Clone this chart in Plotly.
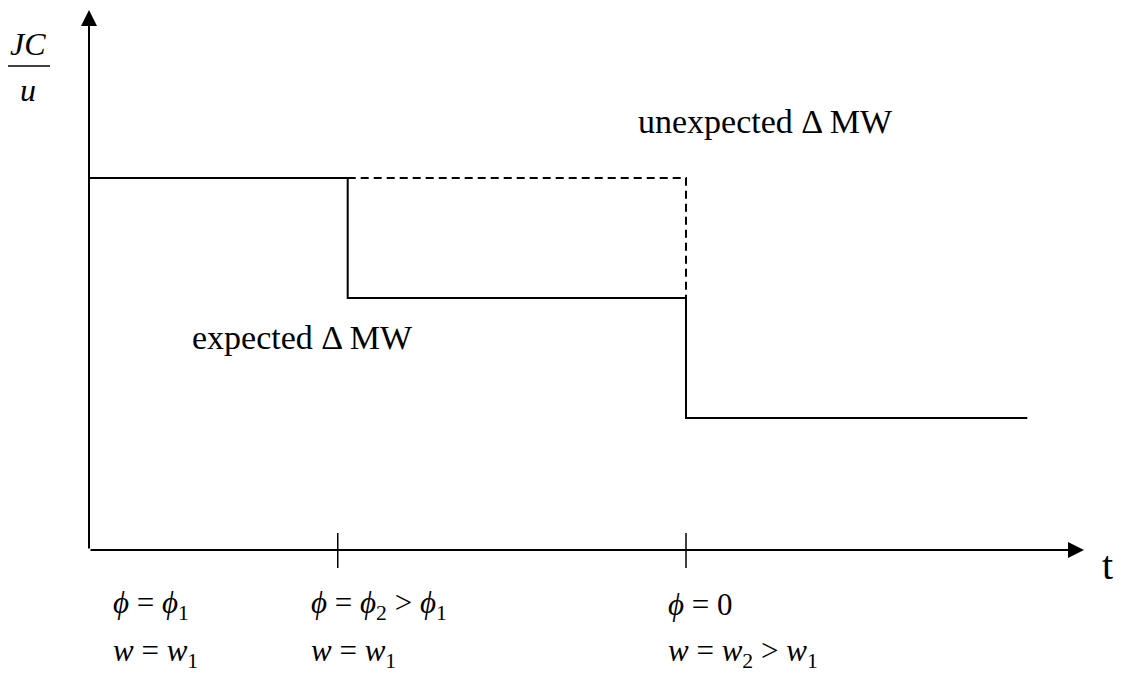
import plotly.graph_objects as go

# ---- data (abstract units) ----
switch_times = [0.0, 2.6, 6.0, 9.43]      # start, first drop, second drop, end
jc_levels = [3.1, 2.1, 1.1]               # JC/u level in each regime
unexpected_level = [3.1, 3.1, 2.1]        # dashed path (no anticipated drop)
tick_positions = [2.5, 6.0]
axis_x_end = 10.0
axis_y_end = 4.5

row1_labels = ["<i>ϕ</i> = <i>ϕ</i><sub>1</sub>",
               "<i>ϕ</i> = <i>ϕ</i><sub>2</sub> > <i>ϕ</i><sub>1</sub>",
               "<i>ϕ</i> = 0"]
row2_labels = ["<i>w</i> = <i>w</i><sub>1</sub>",
               "<i>w</i> = <i>w</i><sub>1</sub>",
               "<i>w</i> = <i>w</i><sub>2</sub> > <i>w</i><sub>1</sub>"]
label_x = [0.22, 2.21, 5.80]

FONT = "Liberation Serif, Times New Roman, serif"

# page body has an 8px margin; the figure is sized to fit the window
OFF = 8
W, H = 1121 - OFF, 673 - OFF

# step path built from the data
step_x, step_y = [], []
for i, lvl in enumerate(jc_levels):
    step_x += [switch_times[i], switch_times[i + 1]]
    step_y += [lvl, lvl]

dash_x = [switch_times[1], switch_times[2], switch_times[2]]
dash_y = unexpected_level

fig = go.Figure()
fig.add_trace(go.Scatter(x=step_x, y=step_y, mode="lines",
                         line=dict(color="black", width=2), hoverinfo="skip"))
fig.add_trace(go.Scatter(x=dash_x, y=dash_y, mode="lines",
                         line=dict(color="black", width=2, dash="8px,5px"),
                         hoverinfo="skip"))
for tp in tick_positions:
    fig.add_trace(go.Scatter(x=[tp, tp], y=[0.142, -0.15], mode="lines",
                             line=dict(color="black", width=1.5), hoverinfo="skip"))

# axes with arrowheads
fig.add_annotation(x=axis_x_end, y=0, ax=0, ay=0, xref="x", yref="y",
                   axref="x", ayref="y", text="", showarrow=True,
                   arrowhead=2, arrowsize=1.6, arrowwidth=2, arrowcolor="black",
                   standoff=0, startstandoff=0)
fig.add_annotation(x=0, y=axis_y_end, ax=0, ay=0, xref="x", yref="y",
                   axref="x", ayref="y", text="", showarrow=True,
                   arrowhead=2, arrowsize=1.6, arrowwidth=2, arrowcolor="black",
                   standoff=0, startstandoff=0)

def txt(x, y, s, size, xanchor="left"):
    fig.add_annotation(x=x, y=y, xref="x", yref="y", text=s, showarrow=False,
                       xanchor=xanchor, yanchor="middle",
                       font=dict(family=FONT, size=size, color="black"))

txt(5.50, 3.575, "unexpected Δ MW", 34)
txt(1.02, 1.767, "expected Δ MW", 34)
txt(10.16, -0.125, "t", 40)
for x, s in zip(label_x, row1_labels):
    txt(x, -0.458, s, 31)
for x, s in zip(label_x, row2_labels):
    txt(x, -0.858, s, 31)

# y-axis label JC/u as a fraction (positions in window pixels)
def ptxt(px, py, s, size):
    fig.add_annotation(x=(px - OFF) / W, y=1 - (py - OFF) / H,
                       xref="paper", yref="paper", text=s, showarrow=False,
                       xanchor="center", yanchor="middle",
                       font=dict(family=FONT, size=size, color="black"))

ptxt(28, 44, "<i>JC</i>", 32)
ptxt(28, 90, "<i>u</i>", 32)
fig.add_shape(type="line", xref="paper", yref="paper",
              x0=(7 - OFF) / W, x1=(50 - OFF) / W,
              y0=1 - (66 - OFF) / H, y1=1 - (66 - OFF) / H,
              line=dict(color="black", width=1.5))

# x: window px 89 -> 0, 99.5 px per unit ; y: window px 550 -> 0, 120 px per unit
fig.update_layout(
    width=W, height=H, margin=dict(l=0, r=0, t=0, b=0),
    paper_bgcolor="white", plot_bgcolor="white", showlegend=False,
    xaxis=dict(range=[(OFF - 89) / 99.5, (1121 - 89) / 99.5],
               visible=False, fixedrange=True),
    yaxis=dict(range=[(550 - 673) / 120, (550 - OFF) / 120],
               visible=False, fixedrange=True),
)

fig.write_html("out.html", config={"displayModeBar": False})
